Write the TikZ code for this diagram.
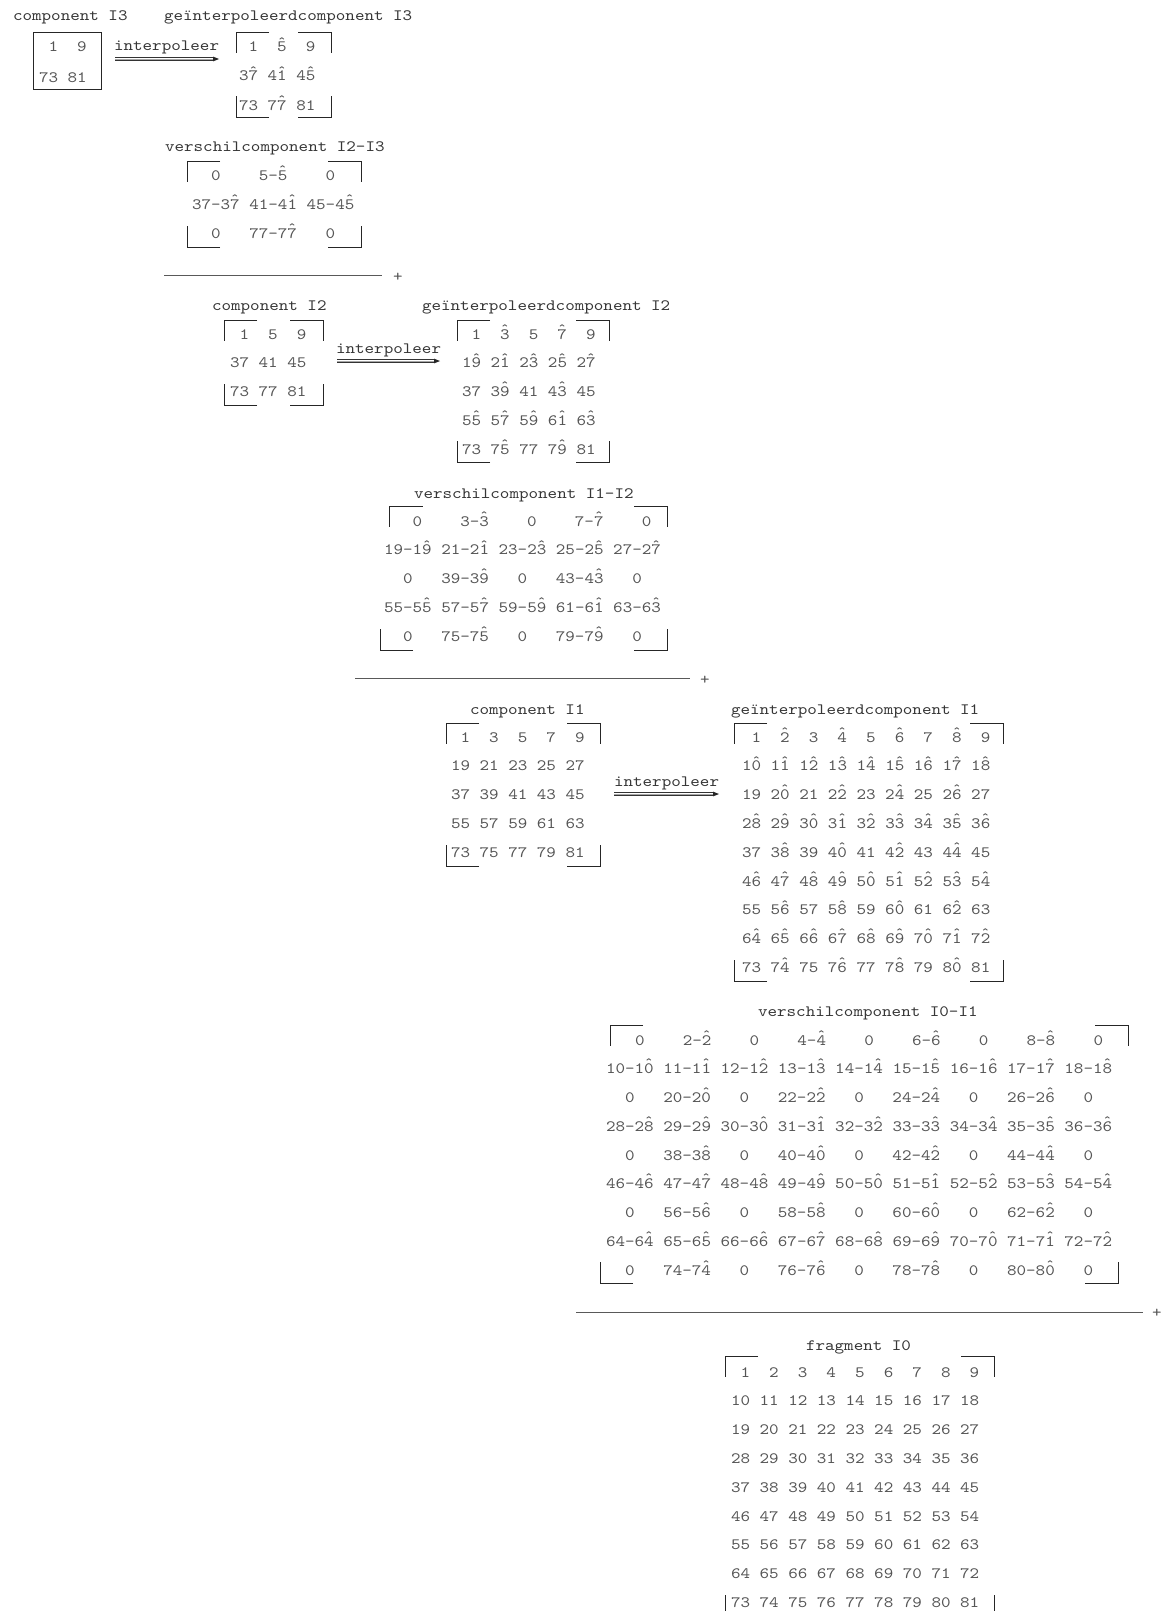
\documentclass[tikz,border=0pt]{standalone}
\usepackage{fontspec}
\usepackage{graphicx}
\newfontfamily\monofam{lmmono10-regular.otf}[FakeStretch=1.1513]
\newcommand\mf{\monofam\fontsize{15.8pt}{18pt}\selectfont}
\definecolor{titc}{HTML}{363636}
\definecolor{numc}{HTML}{555555}
\newlength\cw \setlength\cw{9.55pt}
\newcommand\gap{\hspace*{\cw}}
\newcommand\nc[1]{\makebox[2\cw][r]{#1}}
\newcommand\dc[1]{\makebox[5\cw][c]{#1}}
\newcommand\hd[1]{\rlap{#1}\makebox[\cw][c]{\raisebox{3.8pt}{\scalebox{0.85}[1.1]{\char"02C6}}}}
\newcommand\hn[1]{\pgfmathtruncatemacro\hT{(#1)/10}\pgfmathtruncatemacro\hU{(#1)-10*\hT}\ifnum\hT>0 \hT\fi\hd{\hU}}
% plain row
\newcommand\prow[3]{\foreach \cc in {1,...,#3}{\pgfmathtruncatemacro\nn{#1*(\rr-1)+#2*(\cc-1)+1}\ifnum\cc>1 \gap\fi\nc{\nn}}}
% interpolated row
\newcommand\irow[3]{\foreach \cc in {1,...,#3}{\pgfmathtruncatemacro\nn{#1*(\rr-1)+#2*(\cc-1)+1}\pgfmathtruncatemacro\zz{mod(\rr,2)*mod(\cc,2)}\ifnum\cc>1 \gap\fi\nc{\ifnum\zz=1 \nn\else\hn{\nn}\fi}}}
% difference row
\newcommand\drow[3]{\foreach \cc in {1,...,#3}{\pgfmathtruncatemacro\nn{#1*(\rr-1)+#2*(\cc-1)+1}\pgfmathtruncatemacro\zz{mod(\rr,2)*mod(\cc,2)}\ifnum\cc>1 \gap\fi\dc{\ifnum\zz=1 0\else\nn-\hn{\nn}\fi}}}
% corner brackets: top-left x, top-right x, bottom-left x, bottom-right x, top y, bottom y
\newcommand\brackets[6]{%
  \draw[brk] ({#1+33},#5) -| (#1,{#5+21});
  \draw[brk] ({#2-33},#5) -| (#2,{#5+21});
  \draw[brk] ({#3+33},#6) -| (#3,{#6-21});
  \draw[brk] ({#4-33},#6) -| (#4,{#6-21});}
% double arrow with small filled tip
\newcommand\iplarrow[2]{%
  \draw[dl] ([yshift=1.3pt]#1) -- ([yshift=1.3pt,xshift=-6pt]#2);
  \draw[dl] ([yshift=-1.3pt]#1) -- ([yshift=-1.3pt,xshift=-6pt]#2);
  \draw[dlm] (#1) -- ([xshift=-6pt]#2);
  \fill[black!85] (#2) -- ([xshift=-6pt,yshift=2.4pt]#2) -- ([xshift=-6pt,yshift=-2.4pt]#2) -- cycle;}
\tikzset{
  ttl/.style={anchor=base west, inner sep=0pt, outer sep=0pt, text=titc, font=\mf},
  num/.style={anchor=base west, inner sep=0pt, outer sep=0pt, text=numc, font=\mf},
  brk/.style={draw=black!85, line width=0.9pt},
  sumline/.style={draw=black!65, line width=1pt},
  dl/.style={draw=black!80, line width=0.7pt},
  dlm/.style={draw=black!35, line width=0.6pt},
}
\begin{document}
\begin{tikzpicture}[x=1pt,y=-1pt]
\path[use as bounding box] (0,0) rectangle (1169,1611);
\fill[white] (0,0) rectangle (1169,1611);

% ---------- level 3 ----------
\node[ttl] (tI3) at (13,21) {component I3};
\node[ttl] (tG3) at (164,21) {geïnterpoleerdcomponent I3};
\draw[brk] (33,32) rectangle (101,89);
\foreach \rr/\yy in {1/47,2/77}{\node[num] (cIIIr\rr) at (39,{\yy+5}) {\prow{72}{8}{2}};}

\coordinate (a1s) at (115,59); \coordinate (a1e) at (219,59);
\iplarrow{a1s}{a1e}
\node[ttl] (a1l) at (114,51) {interpoleer};

\foreach \rr in {1,2,3}{\node[num] (gIIIr\rr) at (239,{47+(\rr-1)*29+5}) {\irow{36}{4}{3}};}
\brackets{236}{331}{236}{331}{32}{117}

\node[ttl] (tD23) at (165,151) {verschilcomponent I2-I3};
\foreach \rr in {1,2,3}{\node[num] (dIIIr\rr) at (192,{175+(\rr-1)*29+5}) {\drow{36}{4}{3}};}
\brackets{187}{361}{187}{361}{161}{247}

\coordinate (s1a) at (164,275); \coordinate (s1b) at (382,275);
\draw[sumline] (s1a) -- (s1b);
\node[num, anchor=center] (p1) at (398,277) {+};

% ---------- level 2 ----------
\node[ttl] (tI2) at (212,310) {component I2};
\node[ttl] (tG2) at (422,310) {geïnterpoleerdcomponent I2};
\foreach \rr in {1,2,3}{\node[num] (cIIr\rr) at (230,{334+(\rr-1)*28.8+5}) {\prow{36}{4}{3}};}
\brackets{224}{323}{224}{323}{320}{405}

\coordinate (a2s) at (337,361); \coordinate (a2e) at (440,361);
\iplarrow{a2s}{a2e}
\node[ttl] (a2l) at (336,353) {interpoleer};

\foreach \rr in {1,...,5}{\node[num] (gIIr\rr) at (462,{334+(\rr-1)*28.8+5}) {\irow{18}{2}{5}};}
\brackets{457}{609}{457}{609}{320}{462}

\node[ttl] (tD12) at (414,498) {verschilcomponent I1-I2};
\foreach \rr in {1,...,5}{\node[num] (dIIr\rr) at ({384+(\rr==1)*9.5},{521+(\rr-1)*28.8+5}) {\drow{18}{2}{5}};}
\brackets{389.5}{667}{380}{667}{506}{650}

\coordinate (s2a) at (355,678); \coordinate (s2b) at (690,678);
\draw[sumline] (s2a) -- (s2b);
\node[num, anchor=center] (p2) at (705,680) {+};

% ---------- level 1 ----------
\node[ttl] (tI1) at (470,714) {component I1};
\node[ttl] (tG1) at (731,714) {geïnterpoleerdcomponent I1};
\foreach \rr in {1,...,5}{\node[num] (cIr\rr) at (451,{737+(\rr-1)*28.8+5}) {\prow{18}{2}{5}};}
\brackets{446}{600}{446}{600}{723}{866}

\coordinate (a3s) at (614,794); \coordinate (a3e) at (719,794);
\iplarrow{a3s}{a3e}
\node[ttl] (a3l) at (614,786) {interpoleer};

\foreach \rr in {1,...,9}{\node[num] (gIr\rr) at (742,{737+(\rr-1)*28.8+5}) {\irow{9}{1}{9}};}
\brackets{734}{1003}{734}{1003}{723}{981}

\node[ttl] (tD01) at (758,1016) {verschilcomponent I0-I1};
\foreach \rr in {1,...,9}{\node[num] (dIr\rr) at ({606+(\rr==1)*10},{1040+(\rr-1)*28.75+5}) {\drow{9}{1}{9}};}
\brackets{610}{1128}{600}{1118}{1025}{1283}

\coordinate (s3a) at (576,1312); \coordinate (s3b) at (1143,1312);
\draw[sumline] (s3a) -- (s3b);
\node[num, anchor=center] (p3) at (1157,1313) {+};

% ---------- level 0 ----------
\node[ttl] (tF0) at (806,1350) {fragment I0};
\foreach \rr in {1,...,9}{\node[num] (fr\rr) at (731,{1372+(\rr-1)*28.8+5}) {\prow{9}{1}{9}};}
\brackets{725}{994}{725}{994}{1356}{1616}
\end{tikzpicture}
\end{document}
